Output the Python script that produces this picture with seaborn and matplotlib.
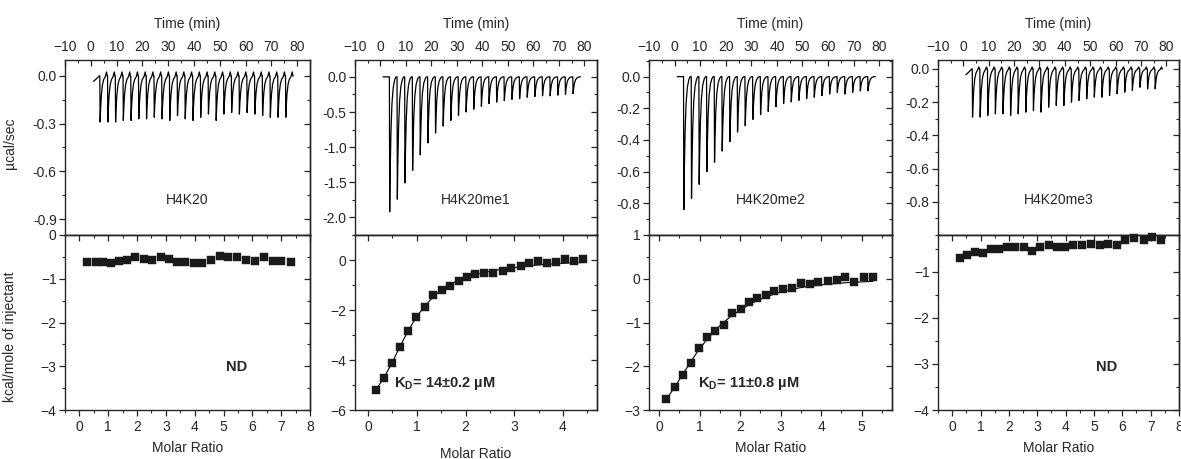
import matplotlib
matplotlib.use("Agg")
import matplotlib.pyplot as plt
from matplotlib.ticker import MultipleLocator, FixedLocator
import seaborn as sns

# ---- data ----
peptides = ["H4K20", "H4K20me1", "H4K20me2", "H4K20me3"]

inj_time = [3.5, 6.5, 9.5, 12.5, 15.5, 18.5, 21.5, 24.5, 27.5, 30.5, 33.5, 36.5, 39.5,
            42.5, 45.5, 48.5, 51.5, 54.5, 57.5, 60.5, 63.5, 66.5, 69.5, 72.5, 75.5]

peak_h4k20 = [-0.29, -0.29, -0.29, -0.28, -0.28, -0.27, -0.27, -0.26, -0.27, -0.28, -0.25, -0.27, -0.28,
              -0.26, -0.24, -0.28, -0.24, -0.23, -0.24, -0.23, -0.24, -0.25, -0.26, -0.26, -0.26]
peak_me1 = [-1.92, -1.74, -1.51, -1.33, -1.11, -0.94, -0.80, -0.70, -0.62, -0.55, -0.50, -0.46, -0.42,
            -0.38, -0.36, -0.34, -0.32, -0.31, -0.29, -0.28, -0.27, -0.27, -0.26, -0.25, -0.24]
peak_me2 = [-0.84, -0.77, -0.68, -0.60, -0.54, -0.47, -0.41, -0.35, -0.31, -0.27, -0.24, -0.22, -0.19,
            -0.17, -0.16, -0.15, -0.14, -0.13, -0.12, -0.11, -0.10, -0.11, -0.10, -0.09, -0.09]
peak_me3 = [-0.29, -0.29, -0.28, -0.27, -0.27, -0.28, -0.27, -0.26, -0.25, -0.26, -0.23, -0.22, -0.22,
            -0.20, -0.19, -0.18, -0.17, -0.17, -0.16, -0.15, -0.14, -0.13, -0.11, -0.12, -0.12]

ratio_h4k20 = [0.27, 0.56, 0.82, 1.09, 1.36, 1.66, 1.94, 2.23, 2.52, 2.82, 3.10, 3.38, 3.68,
               3.97, 4.26, 4.57, 4.88, 5.17, 5.47, 5.78, 6.09, 6.42, 6.72, 7.01, 7.34]
heat_h4k20 = [-0.61, -0.62, -0.62, -0.63, -0.59, -0.56, -0.51, -0.55, -0.58, -0.50, -0.55, -0.62, -0.62,
              -0.63, -0.63, -0.57, -0.47, -0.50, -0.50, -0.56, -0.59, -0.51, -0.59, -0.60, -0.61]

ratio_me1 = [0.16, 0.32, 0.49, 0.65, 0.82, 0.99, 1.16, 1.34, 1.51, 1.68, 1.86, 2.03, 2.20,
             2.38, 2.57, 2.76, 2.94, 3.13, 3.31, 3.49, 3.67, 3.86, 4.05, 4.23, 4.42]
heat_me1 = [-5.18, -4.72, -4.12, -3.46, -2.82, -2.29, -1.88, -1.41, -1.18, -1.02, -0.82, -0.67, -0.56,
            -0.51, -0.50, -0.43, -0.33, -0.24, -0.13, -0.05, -0.10, -0.08, 0.03, -0.04, 0.03]
fit_me1 = [-5.20, -4.72, -4.12, -3.47, -2.84, -2.28, -1.85, -1.47, -1.18, -0.97, -0.81, -0.68, -0.58,
           -0.50, -0.43, -0.37, -0.32, -0.27, -0.23, -0.20, -0.17, -0.15, -0.13, -0.11, -0.10]

ratio_me2 = [0.18, 0.39, 0.58, 0.78, 0.98, 1.19, 1.39, 1.60, 1.80, 2.01, 2.21, 2.42, 2.63,
             2.84, 3.06, 3.28, 3.51, 3.72, 3.93, 4.16, 4.38, 4.60, 4.82, 5.05, 5.28]
heat_me2 = [-2.75, -2.48, -2.20, -1.92, -1.59, -1.34, -1.19, -1.06, -0.78, -0.68, -0.52, -0.44, -0.37,
            -0.28, -0.24, -0.21, -0.09, -0.11, -0.08, -0.04, -0.03, 0.03, -0.08, 0.03, 0.04]
fit_me2 = [-2.75, -2.47, -2.19, -1.90, -1.62, -1.38, -1.17, -0.99, -0.84, -0.71, -0.60, -0.50, -0.42,
           -0.35, -0.29, -0.24, -0.20, -0.17, -0.15, -0.12, -0.11, -0.09, -0.08, -0.07, -0.06]

ratio_me3 = [0.26, 0.54, 0.82, 1.10, 1.38, 1.66, 1.95, 2.23, 2.53, 2.81, 3.10, 3.41, 3.69,
             3.98, 4.27, 4.59, 4.89, 5.20, 5.51, 5.81, 6.10, 6.43, 6.75, 7.06, 7.37]
heat_me3 = [-0.69, -0.63, -0.56, -0.59, -0.50, -0.50, -0.45, -0.46, -0.45, -0.54, -0.47, -0.41, -0.45,
            -0.45, -0.41, -0.41, -0.39, -0.42, -0.40, -0.42, -0.30, -0.27, -0.31, -0.24, -0.30]

kd_text = [None, "14\u00b10.2 \u00b5M", "11\u00b10.8 \u00b5M", None]

# ---- styling / layout ----
sns.set_style("ticks")
plt.rcParams["font.family"] = ["Liberation Sans", "DejaVu Sans"]
plt.rcParams["mathtext.fontset"] = "custom"
plt.rcParams["mathtext.rm"] = "Liberation Sans"
plt.rcParams["mathtext.bf"] = "Liberation Sans:bold"
plt.rcParams["axes.linewidth"] = 1.0
plt.rcParams["xtick.major.width"] = 0.9
plt.rcParams["ytick.major.width"] = 0.9
plt.rcParams["xtick.minor.width"] = 0.8
plt.rcParams["ytick.minor.width"] = 0.8

W, H = 1181, 459
fig = plt.figure(figsize=(W / 100, H / 100), dpi=100)

col_left = [65, 355, 649, 938]
col_width = [245, 242, 243, 241]
top_y, mid_y, bot_y = 60, 235, 410

peaks = [peak_h4k20, peak_me1, peak_me2, peak_me3]
lead = [-0.035, 0.0, 0.0, -0.035]
blip = [0.025, 0.0, 0.0, 0.012]
top_ylim = [(-1.0, 0.1), (-2.25, 0.24), (-1.0, 0.105), (-1.0, 0.054)]
top_ticks = [[0.0, -0.3, -0.6, -0.9], [0.0, -0.5, -1.0, -1.5, -2.0],
             [0.0, -0.2, -0.4, -0.6, -0.8], [0.0, -0.2, -0.4, -0.6, -0.8]]
top_minor = [0.15, 0.25, 0.1, 0.1]

ratios = [ratio_h4k20, ratio_me1, ratio_me2, ratio_me3]
heats = [heat_h4k20, heat_me1, heat_me2, heat_me3]
fits = [None, fit_me1, fit_me2, None]
bot_xlim = [(-0.5, 8.0), (-0.27, 4.7), (-0.25, 5.75), (-0.5, 8.0)]
bot_xticks = [range(0, 9), range(0, 5), range(0, 6), range(0, 9)]
bot_ylim = [(-4, 0), (-6, 1), (-3, 1), (-4, -0.2)]
bot_yticks = [[0, -1, -2, -3, -4], [0, -2, -4, -6], [1, 0, -1, -2, -3], [-1, -2, -3, -4]]
bot_yminor = [0.5, 1.0, 0.5, 0.5]

# shape of one injection peak (relative time, relative depth)
pulse_dt = [0.0, 0.12, 0.3, 0.6, 1.0, 1.5, 2.1, 2.6, 2.85]
pulse_shape = [0.0, 1.0, 0.72, 0.42, 0.2, 0.08, 0.02, 0.0, 0.0]


def thermogram(pk, start, up):
    t = [1.0, 2.2, 3.3]
    y = [start, start * 0.5, 0.0]
    for t0, p in zip(inj_time, pk):
        t += [t0 + d for d in pulse_dt]
        y += [p * f for f in pulse_shape]
        y[-2] = up
    t.append(78.5)
    y.append(0.0)
    return t, y


def mirror(ax, which, ticks, minor):
    if which == "y":
        sec = ax.secondary_yaxis("right")
        sec.yaxis.set_major_locator(FixedLocator(ticks))
        sec.yaxis.set_minor_locator(MultipleLocator(minor))
        sec.tick_params(which="both", direction="in", labelright=False)
    else:
        sec = ax.secondary_xaxis("top")
        sec.xaxis.set_major_locator(FixedLocator(ticks))
        sec.xaxis.set_minor_locator(MultipleLocator(minor))
        sec.tick_params(which="both", direction="in", labeltop=False)
    sec.tick_params(which="major", length=4)
    sec.tick_params(which="minor", length=2.5)


for i in range(4):
    x0 = col_left[i] / W
    w = col_width[i] / W
    h = (mid_y - top_y) / H

    # raw heat trace
    ax = fig.add_axes([x0, 1 - mid_y / H, w, h])
    t, y = thermogram(peaks[i], lead[i], blip[i])
    sns.lineplot(x=t, y=y, ax=ax, color="black", lw=0.9, sort=False, estimator=None)
    ax.set_xlim(-10, 85)
    ax.set_ylim(*top_ylim[i])
    ax.xaxis.tick_top()
    ax.xaxis.set_label_position("top")
    ax.xaxis.set_major_locator(MultipleLocator(10))
    ax.xaxis.set_minor_locator(MultipleLocator(5))
    ax.yaxis.set_major_locator(FixedLocator(top_ticks[i]))
    ax.yaxis.set_minor_locator(MultipleLocator(top_minor[i]))
    ax.yaxis.set_major_formatter(plt.FormatStrFormatter("%.1f"))
    ax.tick_params(axis="x", which="both", direction="in", labelsize=10, pad=4)
    ax.tick_params(axis="y", which="both", direction="out", labelsize=10, pad=2)
    ax.tick_params(which="major", length=4)
    ax.tick_params(which="minor", length=2.5)
    mirror(ax, "y", top_ticks[i], top_minor[i])
    ax.set_xlabel("Time (min)", fontsize=10, labelpad=9)
    ax.set_ylabel("")
    ax.text(0.5, 0.2, peptides[i], transform=ax.transAxes, ha="center", va="center", fontsize=10)
    if i == 0:
        ax.set_ylabel("\u00b5cal/sec", fontsize=10)
        ax.yaxis.set_label_coords(-0.196, 0.526)

    # integrated heats
    bx = fig.add_axes([x0, 1 - bot_y / H, w, (bot_y - mid_y) / H])
    if fits[i] is not None:
        sns.lineplot(x=ratios[i], y=fits[i], ax=bx, color="black", lw=0.8, estimator=None)
    sns.scatterplot(x=ratios[i], y=heats[i], ax=bx, marker="s", s=26, color="#1a1a1a",
                    edgecolor="#1a1a1a", linewidth=0.3, clip_on=False, zorder=5)
    bx.set_xlim(*bot_xlim[i])
    bx.set_ylim(*bot_ylim[i])
    bx.xaxis.set_major_locator(FixedLocator(list(bot_xticks[i])))
    bx.xaxis.set_minor_locator(MultipleLocator(0.5))
    bx.yaxis.set_major_locator(FixedLocator(bot_yticks[i]))
    bx.yaxis.set_minor_locator(MultipleLocator(bot_yminor[i]))
    bx.tick_params(which="both", direction="out", labelsize=10)
    bx.tick_params(axis="y", pad=2)
    bx.tick_params(which="major", length=4)
    bx.tick_params(which="minor", length=2.5)
    mirror(bx, "y", bot_yticks[i], bot_yminor[i])
    mirror(bx, "x", list(bot_xticks[i]), 0.5)
    bx.set_xlabel("Molar Ratio", fontsize=10, labelpad=5 if i != 1 else 9)
    bx.set_ylabel("")
    if i == 0:
        bx.set_ylabel("kcal/mole of injectant", fontsize=10)
        bx.yaxis.set_label_coords(-0.196, 0.417)
    if kd_text[i] is None:
        bx.text(0.70, 0.245, "ND", transform=bx.transAxes, ha="center", va="center",
                fontsize=10.5, fontweight="bold")
    else:
        bx.text(0.16 if i == 1 else 0.2, 0.15, r"$\mathbf{K_D}$= " + kd_text[i],
                transform=bx.transAxes, ha="left", va="center", fontsize=10.5, fontweight="bold")

fig.savefig("out.png", dpi=100)
